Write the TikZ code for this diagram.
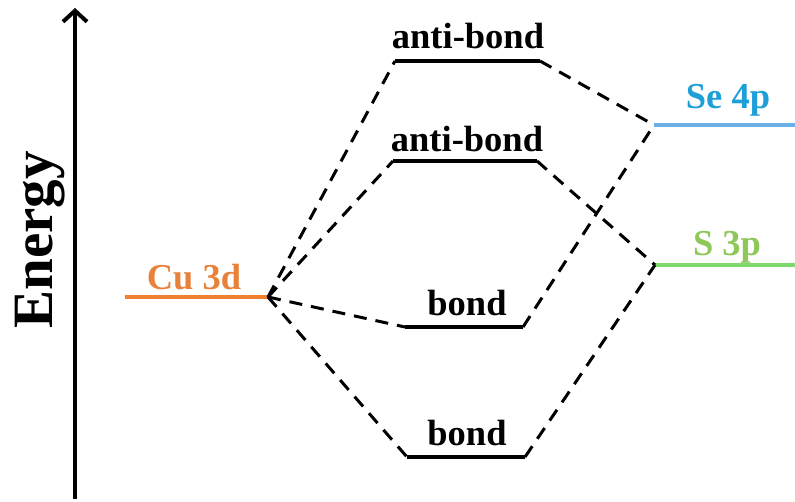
\documentclass[tikz,border=0pt]{standalone}
\usepackage{fontspec}
\setmainfont{Liberation Serif}
\usetikzlibrary{arrows.meta}
\definecolor{cuorange}{HTML}{EE8030}
\definecolor{cuorangetxt}{HTML}{E8823A}
\definecolor{seblue}{HTML}{6BB0E6}
\definecolor{sebluetxt}{HTML}{1E9FD8}
\definecolor{sgreen}{HTML}{7FD86A}
\definecolor{sgreentxt}{HTML}{8DC858}
\begin{document}
\begin{tikzpicture}[x=1pt,y=-1pt,
  lvl/.style={line width=4.5pt},
  lbl/.style={font=\fontsize{36.5}{40}\selectfont\bfseries, anchor=base, inner sep=0pt},
  conn/.style={line width=3pt, dash pattern=on 13pt off 9pt}]
\useasboundingbox (0,0) rectangle (795,501);
% axis
\coordinate (ab) at (75,499);
\coordinate (at) at (75,8);
\draw[line width=4pt, -{Straight Barb[length=11pt,width=24pt,line width=4pt]}] (ab) -- (at);
\node[rotate=90, font=\fontsize{57}{60}\selectfont\bfseries, inner sep=0pt] (energy) at (40,240) {Energy};
% levels
\coordinate (cuL) at (125,297); \coordinate (cuR) at (268,297);
\draw[lvl, cuorange] (cuL) -- (cuR);
\node[lbl, text=cuorangetxt] (culbl) at (194,289) {Cu 3d};

\coordinate (a1L) at (395,61); \coordinate (a1R) at (540,61);
\draw[lvl] (a1L) -- (a1R);
\node[lbl] (a1lbl) at (468,48) {anti-bond};

\coordinate (a2L) at (393,161); \coordinate (a2R) at (537,161);
\draw[lvl] (a2L) -- (a2R);
\node[lbl] (a2lbl) at (467,151) {anti-bond};

\coordinate (b1L) at (405,327); \coordinate (b1R) at (523,327);
\draw[lvl] (b1L) -- (b1R);
\node[lbl] (b1lbl) at (467,315) {bond};

\coordinate (b2L) at (407,457); \coordinate (b2R) at (525,457);
\draw[lvl] (b2L) -- (b2R);
\node[lbl] (b2lbl) at (467,445) {bond};

\coordinate (seL) at (654,125); \coordinate (seR) at (795,125);
\draw[lvl, seblue] (seL) -- (seR);
\node[lbl, text=sebluetxt] (selbl) at (728,108) {Se 4p};

\coordinate (sL) at (655,265); \coordinate (sR) at (795,265);
\draw[lvl, sgreen] (sL) -- (sR);
\node[lbl, text=sgreentxt] (slbl) at (727,255) {S 3p};

% connectors
\draw[conn] (cuR) -- (a1L);
\draw[conn] (cuR) -- (a2L);
\draw[conn] (cuR) -- (b1L);
\draw[conn] (cuR) -- (b2L);
\draw[conn] (a1R) -- (seL);
\draw[conn] (b1R) -- (seL);
\draw[conn] (a2R) -- (sL);
\draw[conn] (b2R) -- (sL);
\end{tikzpicture}
\end{document}
